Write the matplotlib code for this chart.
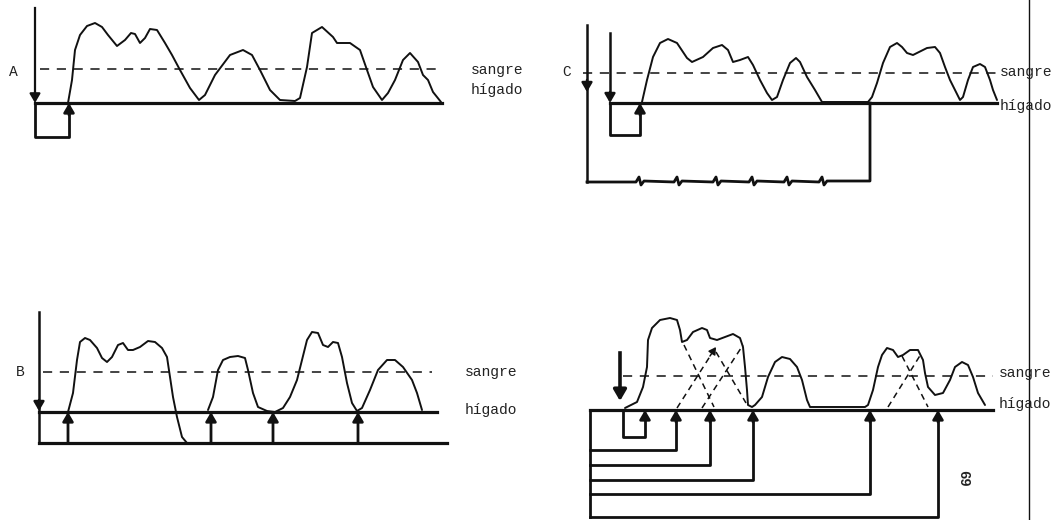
import matplotlib
matplotlib.use("Agg")
import matplotlib.pyplot as plt

# curvas (coordenadas en pixeles de la hoja escaneada, y hacia abajo)
curva_a_x = [68, 72, 75, 80, 87, 95, 102, 108, 117, 125, 131, 135, 140, 145, 150, 157, 165, 172, 180, 190, 199,
             205, 215, 230, 243, 252, 260, 270, 280, 295, 300, 307, 312, 322, 333, 337, 350, 360, 367, 373, 382,
             388, 395, 403, 410, 418, 423, 428, 433, 441]
curva_a_y = [103, 80, 50, 35, 26, 23, 27, 35, 46, 40, 33, 34, 43, 38, 29, 30, 43, 55, 70, 88, 100,
             95, 75, 55, 50, 55, 70, 90, 100, 101, 98, 67, 33, 27, 37, 43, 43, 50, 70, 87, 100,
             93, 80, 60, 53, 62, 75, 80, 92, 102]

curva_c_x = [642, 647, 653, 660, 668, 677, 687, 692, 703, 713, 722, 728, 733, 740, 748, 753, 760, 767, 772,
             777, 783, 790, 796, 800, 807, 815, 822, 868, 872, 877, 883, 890, 897, 902, 907, 913, 927, 935,
             940, 945, 950, 955, 960, 963, 968, 973, 980, 985, 990, 993, 997]
curva_c_y = [102, 80, 57, 43, 39, 43, 58, 62, 57, 48, 45, 50, 62, 60, 57, 65, 80, 93, 100,
             97, 80, 63, 58, 62, 77, 90, 102, 102, 97, 83, 63, 47, 43, 47, 53, 55, 48, 47,
             53, 67, 80, 90, 100, 97, 80, 67, 64, 67, 80, 90, 100]

curva_b1_x = [68, 73, 77, 80, 85, 90, 97, 102, 107, 112, 118, 123, 128, 133, 140, 148, 155, 162, 167, 170,
              173, 177, 182, 187, 192]
curva_b1_y = [412, 393, 360, 342, 338, 340, 348, 358, 362, 357, 345, 343, 350, 350, 347, 341, 342, 348, 357, 377,
              397, 417, 437, 443, 443]
curva_b2_x = [208, 213, 218, 223, 230, 238, 245, 248, 253, 258, 267, 275, 283, 290, 297, 302, 307, 312, 318,
              323, 328, 333, 338, 342, 347, 352, 357, 362, 370, 378, 387, 395, 403, 412, 417, 422]
curva_b2_y = [410, 397, 370, 360, 357, 356, 358, 370, 393, 407, 411, 412, 408, 397, 380, 360, 340, 332, 333,
              345, 347, 342, 343, 357, 383, 403, 411, 408, 390, 370, 360, 360, 367, 380, 393, 410]

curva_d_x = [625, 637, 643, 647, 648, 652, 660, 670, 677, 680, 682, 687, 693, 702, 707, 710, 717, 725, 733,
             740, 743, 745, 747, 748, 752, 755, 762, 768, 775, 782, 790, 797, 802, 807, 810, 865, 868, 873,
             878, 882, 887, 893, 898, 903, 910, 918, 923, 925, 928, 935, 943, 950, 955, 962, 968, 973, 978, 985]
curva_d_y = [408, 402, 387, 367, 340, 328, 320, 318, 320, 330, 342, 340, 332, 328, 330, 338, 340, 337, 334,
             338, 347, 367, 390, 405, 407, 405, 397, 377, 362, 357, 359, 367, 380, 400, 407, 407, 405, 390,
             367, 355, 348, 350, 357, 355, 350, 350, 360, 373, 387, 395, 393, 380, 367, 362, 365, 377, 393, 405]

# componentes punteadas que se cruzan en D: (x0, y0, x1, y1)
cruces_d = [(677, 408, 716, 347), (702, 408, 743, 345), (684, 345, 714, 407), (716, 352, 746, 403),
            (888, 407, 921, 354), (902, 356, 928, 407)]

# retornos (x de cada flecha que sube al higado)
retornos_b = [68, 211, 273, 358]
quiebres_c = [640, 678, 717, 753, 788, 823]
retornos_d_x = [676, 710, 753, 870, 938]
retornos_d_y = [450, 465, 480, 494, 517]

etiquetas = ["sangre", "hígado"]

fig = plt.figure(figsize=(10.55, 5.2), dpi=100)
ax = fig.add_axes([0, 0, 1, 1])
ax.set_xlim(0, 1055)
ax.set_ylim(520, 0)
ax.axis("off")

k = "#111111"
fuente = dict(family=["Liberation Mono", "DejaVu Sans Mono"], fontsize=10.5, color="#222222")
curva = dict(color=k, lw=1.4, solid_joinstyle="round", solid_capstyle="round")


def flecha(x0, y0, x1, y1, lw=1.6, ms=9):
    ax.annotate("", xy=(x1, y1), xytext=(x0, y0),
                arrowprops=dict(arrowstyle="-|>,head_length=0.6,head_width=0.35", color=k, lw=lw,
                                mutation_scale=ms, shrinkA=0, shrinkB=0))


def rayas(x0, x1, y):
    ax.plot([x0, x1], [y, y], color=k, lw=1.1, dashes=(6, 5))


# ---------------- A ----------------
ax.plot([35, 35], [8, 96], color=k, lw=1.6)
flecha(35, 92, 35, 103)
ax.plot([35, 442], [103, 103], color=k, lw=2.3)
ax.plot([35, 35, 69, 69], [103, 137, 137, 112], color=k, lw=2.0)
flecha(69, 115, 69, 103, lw=2.0)
rayas(40, 442, 69)
ax.plot(curva_a_x, curva_a_y, **curva)
ax.text(13, 72, "A", ha="center", va="center", **fuente)
ax.text(471, 70, etiquetas[0], ha="left", va="center", **fuente)
ax.text(471, 90, etiquetas[1], ha="left", va="center", **fuente)

# ---------------- C ----------------
ax.plot([587, 587], [25, 182], color=k, lw=1.8)
flecha(587, 80, 587, 92, lw=1.8)
ax.plot([610, 610], [33, 96], color=k, lw=1.8)
flecha(610, 92, 610, 103, lw=1.8)
ax.plot([610, 997], [103, 103], color=k, lw=2.3)
ax.plot([610, 610, 640, 640], [103, 135, 135, 112], color=k, lw=2.0)
flecha(640, 115, 640, 103, lw=2.0)
bx, by = [587], [182]
for q in quiebres_c:
    bx += [q - 4, q - 1, q + 1, q + 4]
    by += [182, 177, 185, 181]
bx += [870, 870]
by += [181, 103]
ax.plot(bx, by, color=k, lw=2.0)
rayas(583, 997, 73)
ax.plot(curva_c_x, curva_c_y, **curva)
ax.text(567, 72, "C", ha="center", va="center", **fuente)
ax.text(1000, 72, etiquetas[0], ha="left", va="center", **fuente)
ax.text(1000, 106, etiquetas[1], ha="left", va="center", **fuente)

# ---------------- B ----------------
ax.plot([39, 39], [312, 443], color=k, lw=1.8)
flecha(39, 400, 39, 411, lw=1.8)
ax.plot([39, 437], [412, 412], color=k, lw=2.3)
ax.plot([39, 447], [443, 443], color=k, lw=2.3)
for r in retornos_b:
    flecha(r, 443, r, 412, lw=2.0)
rayas(43, 432, 372)
ax.plot(curva_b1_x, curva_b1_y, **curva)
ax.plot(curva_b2_x, curva_b2_y, **curva)
ax.text(20, 372, "B", ha="center", va="center", **fuente)
ax.text(465, 372, etiquetas[0], ha="left", va="center", **fuente)
ax.text(465, 410, etiquetas[1], ha="left", va="center", **fuente)

# ---------------- D ----------------
ax.plot([590, 993], [410, 410], color=k, lw=2.3)
ax.plot([590, 590], [410, 517], color=k, lw=2.0)
ax.plot([620, 620], [353, 392], color=k, lw=2.6)
flecha(620, 388, 620, 401, lw=2.6, ms=11)
ax.plot([623, 623, 645, 645], [410, 437, 437, 418], color=k, lw=2.0)
flecha(645, 420, 645, 410, lw=2.0)
for rx, ry in zip(retornos_d_x, retornos_d_y):
    ax.plot([590, rx, rx], [ry, ry, 420], color=k, lw=2.0)
    flecha(rx, 422, rx, 410, lw=2.0)
rayas(623, 993, 376)
for x0, y0, x1, y1 in cruces_d:
    ax.plot([x0, x1], [y0, y1], color=k, lw=1.1, dashes=(4, 3))
flecha(710, 356, 716, 347, lw=1.1, ms=7)
ax.plot(curva_d_x, curva_d_y, **curva)
ax.text(999, 373, etiquetas[0], ha="left", va="center", **fuente)
ax.text(999, 404, etiquetas[1], ha="left", va="center", **fuente)
ax.text(963, 478, "69", rotation=-90, ha="center", va="center",
        family=["Liberation Mono", "DejaVu Sans Mono"], fontsize=10, fontweight="bold", color="#222222")

# borde de la hoja
ax.plot([1029, 1029], [0, 520], color=k, lw=1.0)

fig.savefig("out.png", dpi=100, facecolor="white")
